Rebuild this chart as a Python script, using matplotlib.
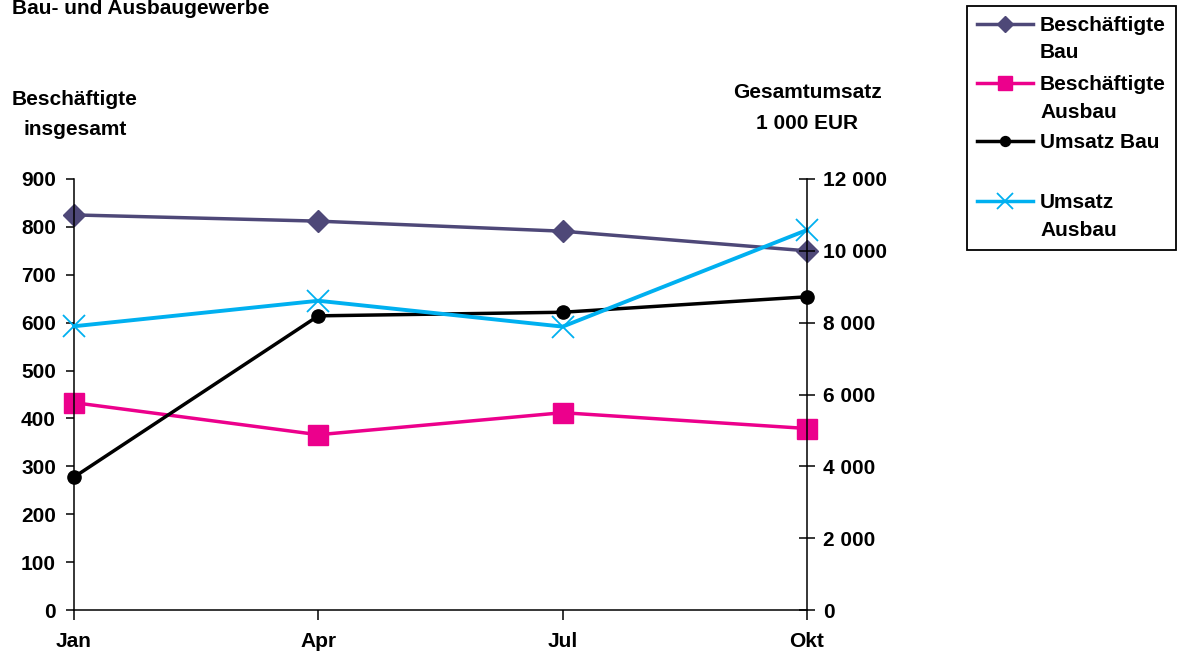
import matplotlib.pyplot as plt
from matplotlib.lines import Line2D

plt.rcParams['font.family'] = ['Liberation Sans', 'DejaVu Sans']
plt.rcParams['font.weight'] = 'bold'
plt.rcParams['font.size'] = 15

# values
months = ['Jan', 'Apr', 'Jul', 'Okt']
besch_bau = [825, 812, 791, 750]
besch_ausbau = [433, 366, 412, 379]
umsatz_bau = [3700, 8190, 8290, 8720]
umsatz_ausbau = [7900, 8610, 7890, 10580]

left_ticks = [0, 100, 200, 300, 400, 500, 600, 700, 800, 900]
right_ticks = [0, 2000, 4000, 6000, 8000, 10000, 12000]

legend_labels = ['Beschäftigte\nBau', 'Beschäftigte\nAusbau', 'Umsatz Bau', 'Umsatz\nAusbau']

PURPLE = '#4E4878'
PINK = '#EC008C'
CYAN = '#00B0F0'
BLACK = '#000000'

W, H = 1178, 655
fig = plt.figure(figsize=(W / 100, H / 100), dpi=100)


def fx(px):
    return px / W


def fy(py):
    return 1 - py / H


ax = fig.add_axes([fx(74), fy(610), fx(807) - fx(74), fy(179) - fy(610)])
ax2 = ax.twinx()

x = list(range(len(months)))
styles = [
    dict(color=PURPLE, marker='D', markersize=11),
    dict(color=PINK, marker='s', markersize=14),
    dict(color=BLACK, marker='o', markersize=9.5),
    dict(color=CYAN, marker='x', markersize=16, markeredgewidth=1.3),
]

ax.plot(x, besch_bau, lw=2.5, clip_on=False, **styles[0])
ax.plot(x, besch_ausbau, lw=2.5, clip_on=False, **styles[1])
ax2.plot(x, umsatz_bau, lw=2.5, clip_on=False, **styles[2])
ax2.plot(x, umsatz_ausbau, lw=2.8, clip_on=False, **styles[3])

ax.set_xlim(0, len(months) - 1)
ax.set_ylim(0, 900)
ax2.set_ylim(0, 12000)

ax.set_xticks(x)
ax.set_xticklabels(months)
ax.set_yticks(left_ticks)
ax2.set_yticks(right_ticks)
ax2.set_yticklabels([f'{v:,}'.replace(',', ' ') for v in right_ticks])

for a in (ax, ax2):
    a.spines['top'].set_visible(False)
    for s in a.spines.values():
        s.set_linewidth(1.1)
ax.spines['right'].set_visible(False)
ax2.spines['left'].set_visible(False)
ax2.spines['bottom'].set_visible(False)

ax.tick_params(axis='y', direction='out', length=6, width=1.1, pad=7)
ax.tick_params(axis='x', direction='out', length=7, width=1.1, pad=9)
ax2.tick_params(axis='y', direction='inout', length=11, width=1.1, pad=6)

# titles / axis captions
fig.text(fx(12), fy(14), 'Bau- und Ausbaugewerbe', ha='left', va='baseline')
fig.text(fx(75), fy(105), 'Beschäftigte', ha='center', va='baseline')
fig.text(fx(75), fy(135), 'insgesamt', ha='center', va='baseline')
fig.text(fx(807), fy(98), 'Gesamtumsatz', ha='center', va='baseline')
fig.text(fx(807), fy(129), '1 000 EUR', ha='center', va='baseline')

# legend drawn by hand so the handles sit on the first text line
fig.add_artist(plt.Rectangle((fx(967), fy(250)), fx(1176) - fx(967), fy(6) - fy(250),
                             transform=fig.transFigure, fill=False, lw=1.3, ec='black'))
first_baselines = [31, 90, 148, 208]
for lab, st, base in zip(legend_labels, styles, first_baselines):
    hy = fy(base - 7)
    fig.add_artist(Line2D([fx(977), fx(1033)], [hy, hy], transform=fig.transFigure, lw=2.5,
                          color=st['color']))
    fig.add_artist(Line2D([fx(1005)], [hy], transform=fig.transFigure, ls='none',
                          color=st['color'], marker=st['marker'],
                          markersize=st['markersize'] * 0.75,
                          markeredgewidth=st.get('markeredgewidth', 1)))
    for i, line in enumerate(lab.split('\n')):
        fig.text(fx(1040), fy(base + i * 27.5), line, ha='left', va='baseline')

fig.savefig('out.png', dpi=100)
